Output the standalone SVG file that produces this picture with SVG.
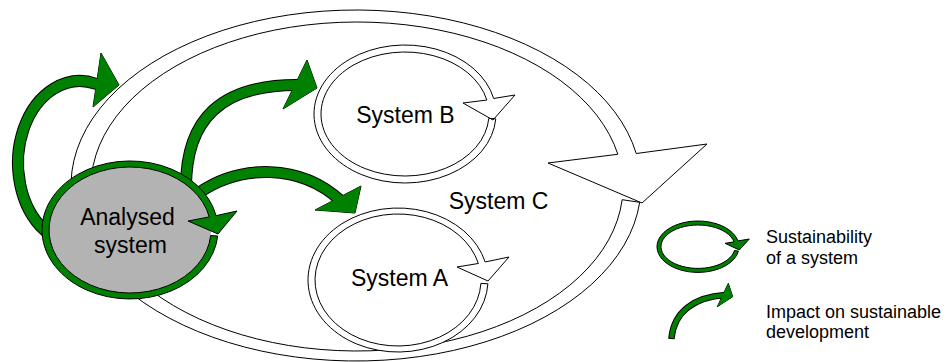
<svg xmlns="http://www.w3.org/2000/svg" width="947" height="362" viewBox="0 0 947 362">
<style>
.ring{fill:#fff;stroke:#000;stroke-width:1}
.gring{fill:#008000;stroke:#000;stroke-width:1}
.so{fill:none;stroke:#000;stroke-width:12}
.si{fill:none;stroke:#008000;stroke-width:10}
.so2{fill:none;stroke:#000;stroke-width:6.5}
.si2{fill:none;stroke:#008000;stroke-width:4.5}
.head{fill:#008000;stroke:#000;stroke-width:1;stroke-linejoin:miter}
.headf{fill:#008000;stroke:none}
text{font-family:"Liberation Sans",Arial,sans-serif;fill:#000}
.lbl{font-size:23px;text-anchor:middle}
.leg{font-size:18px}
</style>
<rect width="947" height="362" fill="#fff"/>
<g id="system-c">
<path class="ring" d="M 639.69,202.32 A 285 175.5 0 1 1 636.23,153.52 L 707,144 L 642,203 L 548,163 L 617.84,154.27 A 266 164.5 0 1 0 622.14,199.69 Z"/>
<text class="lbl" x="498.5" y="209">System C</text>
</g>
<g id="system-b">
<path class="ring" d="M 495.78,118.81 A 91 69 0 1 1 493.67,98.48 L 515,95 L 493,120 L 463,103 L 486.85,100.05 A 84 62 0 1 0 488.80,118.33 Z"/>
<text class="lbl" x="405.5" y="123">System B</text>
</g>
<g id="system-a">
<path class="ring" d="M 487.88,283.77 A 90 72 0 1 1 485.13,261.97 L 509,257 L 488,281 L 457,267 L 478.36,263.47 A 83 66 0 1 0 480.89,283.45 Z"/>
<text class="lbl" x="399.5" y="286">System A</text>
</g>
<g id="connectors">
<g id="impact-outside">
<polygon class="head" points="101,53 119,85 93,107"/>
<path class="so" d="M 55.4,240.2 L 44.44,230.17 A 62 82 0 0 1 96.05,83.79 L 99.8,85.1"/>
<path class="si" d="M 55.4,240.2 L 44.44,230.17 A 62 82 0 0 1 96.05,83.79 L 99.8,85.1"/>
<polygon class="headf" points="101,53 119,85 93,107"/>
</g>
<g id="impact-b">
<polygon class="head" points="307,60 317,88 283,109"/>
<path class="so" d="M 186,190 C 185,118 222,85 297,85"/>
<path class="si" d="M 186,190 C 185,118 222,85 297,85"/>
<polygon class="headf" points="307,60 317,88 283,109"/>
</g>
<g id="impact-a">
<polygon class="head" points="315,210 361,186 355,213"/>
<path class="so" d="M 200,192 C 240,165 300,163 341,201"/>
<path class="si" d="M 200,192 C 240,165 300,163 341,201"/>
<polygon class="headf" points="315,210 361,186 355,213"/>
</g>
</g>
<g id="analysed-system">
<ellipse cx="130" cy="230" rx="81" ry="63" fill="#b3b3b3"/>
<path class="gring" d="M 217.66,236.01 A 88 69 0 1 1 216.08,215.65 L 237,211 L 218,234 L 188,221 L 209.23,216.90 A 81 63 0 1 0 210.69,235.49 Z"/>
<text class="lbl" x="127.5" y="225">Analysed</text>
<text class="lbl" x="130.5" y="253">system</text>
</g>
<g id="legend">
<g id="legend-sustainability">
<path class="gring" d="M 738.38,251.16 A 41 25.7 0 1 1 737.95,240.92 L 749.3,239 L 739.3,250 L 725,243.3 L 734.05,241.82 A 37 21.7 0 1 0 734.44,250.47 Z"/>
<text class="leg" x="766" y="243">Sustainability</text>
<text class="leg" x="766" y="264">of a system</text>
</g>
<g id="legend-impact">
<polygon class="head" points="728.3,283.3 732.7,296.7 717.3,306.7"/>
<path class="so2" d="M 671.4,339 L 671.5,338 C 674,312 694,297 725,295"/>
<path class="si2" d="M 671.5,338 C 674,312 694,297 725,295"/>
<polygon class="headf" points="728.3,283.3 732.7,296.7 717.3,306.7"/>
<text class="leg" x="766" y="318">Impact on sustainable</text>
<text class="leg" x="766" y="338">development</text>
</g>
</g>
</svg>
